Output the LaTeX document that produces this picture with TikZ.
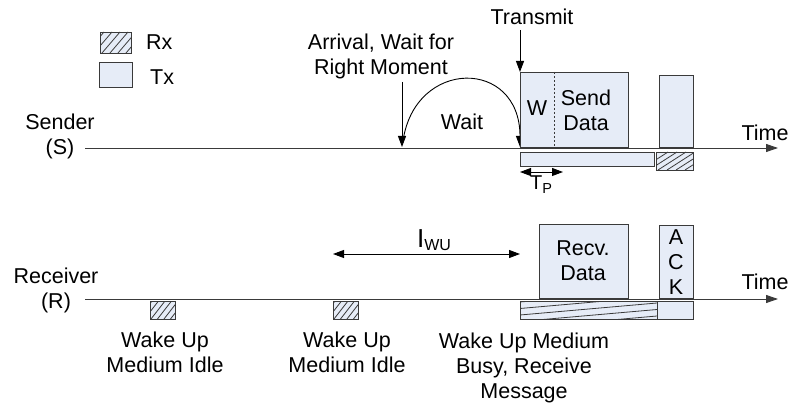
\documentclass[tikz,border=0pt]{standalone}
\usepackage{fontspec}
\setmainfont{Liberation Sans}
\usetikzlibrary{arrows.meta}
\definecolor{txfill}{HTML}{E6ECF7}
\definecolor{edge}{HTML}{3A3A3A}
\tikzset{
  txt/.style={font=\fontsize{21.5}{25}\selectfont, align=center, inner sep=0pt, text=black},
  slot/.style={draw=edge, fill=txfill, line width=0.9pt},
  axis/.style={draw=edge, line width=0.9pt, -{Triangle[length=12pt,width=8pt]}},
  pointer/.style={draw=black, line width=0.9pt, -{Triangle[length=11pt,width=8pt]}},
  span/.style={draw=black, line width=0.9pt, {Triangle[length=11pt,width=8pt]}-{Triangle[length=11pt,width=8pt]}},
  hatchline/.style={draw=edge, line width=0.8pt}
}
\begin{document}
\begin{tikzpicture}[x=1pt,y=-1pt]
\useasboundingbox (0,0) rectangle (792,403);

% legend
\node[slot, minimum width=31pt, minimum height=21pt, inner sep=0pt, anchor=north west] (lrx) at (100,32) {};
\begin{scope}
  \clip (100,32) rectangle (131,53);
  \foreach \i in {0,...,6} \draw[hatchline] (86+\i*8,53) -- (104+\i*8,32);
\end{scope}
\node[slot, minimum width=33pt, minimum height=25pt, inner sep=0pt, anchor=north west] (ltx) at (99,62) {};
\node[txt, anchor=west] (lrxt) at (146,42) {Rx};
\node[txt, anchor=west] (ltxt) at (150,77) {Tx};

% sender time line
\coordinate (s0) at (85,148);
\coordinate (s1) at (778,148);
\draw[axis] (s0) -- (s1);
\node[txt] (sender) at (60,136) {Sender\\(S)};
\node[txt] (stime) at (765,133) {Time};

% arrival and waiting
\node[txt] (arrival) at (381,56) {Arrival, Wait for\\Right Moment};
\coordinate (arrtop) at (402,82);
\coordinate (arrbot) at (402,147);
\draw[pointer] (arrtop) -- (arrbot);
\coordinate (wstart) at (403,141);
\coordinate (wend) at (520,147);
\draw[pointer] (wstart) .. controls (415,58) and (520,58) .. (wend);
\node[txt] (waitlbl) at (462,122) {Wait};

% transmission on the sender side
\node[txt] (transmit) at (532,17) {Transmit};
\coordinate (trtop) at (520,30);
\node[slot, minimum width=108pt, minimum height=75pt, inner sep=0pt, anchor=north west] (send) at (520,72) {};
\draw[pointer] (trtop) -- (send.north west);
\draw[edge, dashed, line width=0.7pt, dash pattern=on 2.5pt off 1.5pt] (554,72) -- (554,147);
\node[txt] (wlbl) at (537,108) {W};
\node[txt] (sendlbl) at (586,110) {Send\\Data};
\node[slot, minimum width=34pt, minimum height=72pt, inner sep=0pt, anchor=north west] (sack) at (659,75) {};
\node[slot, minimum width=134pt, minimum height=14pt, inner sep=0pt, anchor=north west] (sbar) at (520,152) {};
\node[slot, minimum width=37pt, minimum height=18pt, inner sep=0pt, anchor=north west] (shatch) at (656,152) {};
\begin{scope}
  \clip (656,152) rectangle (693,170);
  \foreach \i in {0,...,6} \draw[hatchline] (640+\i*9,170) -- (668+\i*9,152);
\end{scope}
\draw[slot, fill=none] (656,152) rectangle (693,170);
\coordinate (tp0) at (520,172);
\coordinate (tp1) at (563,172);
\draw[span] (tp0) -- (tp1);
\node[txt, anchor=north] (tplbl) at (541,176) {{\fontsize{20}{20}\selectfont T}\raisebox{-4pt}{\fontsize{14.5}{14.5}\selectfont P}};

% receiver time line
\coordinate (r0) at (85,299);
\coordinate (r1) at (778,299);
\draw[axis] (r0) -- (r1);
\node[txt] (receiver) at (56,290) {Receiver\\(R)};
\node[txt] (rtime) at (765,282) {Time};

% periodic wake ups
\node[slot, minimum width=25pt, minimum height=18pt, inner sep=0pt, anchor=north west] (wu1) at (150,301) {};
\begin{scope}
  \clip (150,301) rectangle (175,319);
  \foreach \i in {0,...,5} \draw[hatchline] (138+\i*6.5,319) -- (152+\i*6.5,301);
\end{scope}
\draw[slot, fill=none] (150,301) rectangle (175,319);
\node[slot, minimum width=25pt, minimum height=18pt, inner sep=0pt, anchor=north west] (wu2) at (333,301) {};
\begin{scope}
  \clip (333,301) rectangle (358,319);
  \foreach \i in {0,...,5} \draw[hatchline] (321+\i*6.5,319) -- (335+\i*6.5,301);
\end{scope}
\draw[slot, fill=none] (333,301) rectangle (358,319);
\node[txt] (wu1lbl) at (165,352) {Wake Up\\Medium Idle};
\node[txt] (wu2lbl) at (347,352) {Wake Up\\Medium Idle};

% wake-up interval
\coordinate (iw0) at (333,254);
\coordinate (iw1) at (520,254);
\draw[span] (iw0) -- (iw1);
\node[txt, anchor=south] (iwlbl) at (434,251) {{\fontsize{26}{26}\selectfont I}\raisebox{-3pt}{\fontsize{16}{16}\selectfont WU}};

% reception on the receiver side
\node[slot, minimum width=89pt, minimum height=74pt, inner sep=0pt, anchor=north west] (recv) at (539,224) {};
\node[txt] (recvlbl) at (583,261) {Recv.\\Data};
\node[slot, minimum width=34pt, minimum height=73pt, inner sep=0pt, anchor=north west] (rack) at (659,225) {};
\node[txt] (acka) at (676,237) {A};
\node[txt] (ackc) at (676,262) {C};
\node[txt] (ackk) at (676,287) {K};
\node[slot, minimum width=137pt, minimum height=18pt, inner sep=0pt, anchor=north west] (rbar) at (520,301) {};
\begin{scope}
  \clip (520,301) rectangle (657,319);
  \foreach \i in {0,...,5} \draw[hatchline] (520,302+\i*6.5) -- (657,290+\i*6.5);
\end{scope}
\draw[slot, fill=none] (520,301) rectangle (657,319);
\node[slot, minimum width=36pt, minimum height=18pt, inner sep=0pt, anchor=north west] (rtx) at (657,301) {};
\node[txt] (busylbl) at (524,368) {Wake Up Medium\\Busy, Receive\\Message};
\end{tikzpicture}
\end{document}
